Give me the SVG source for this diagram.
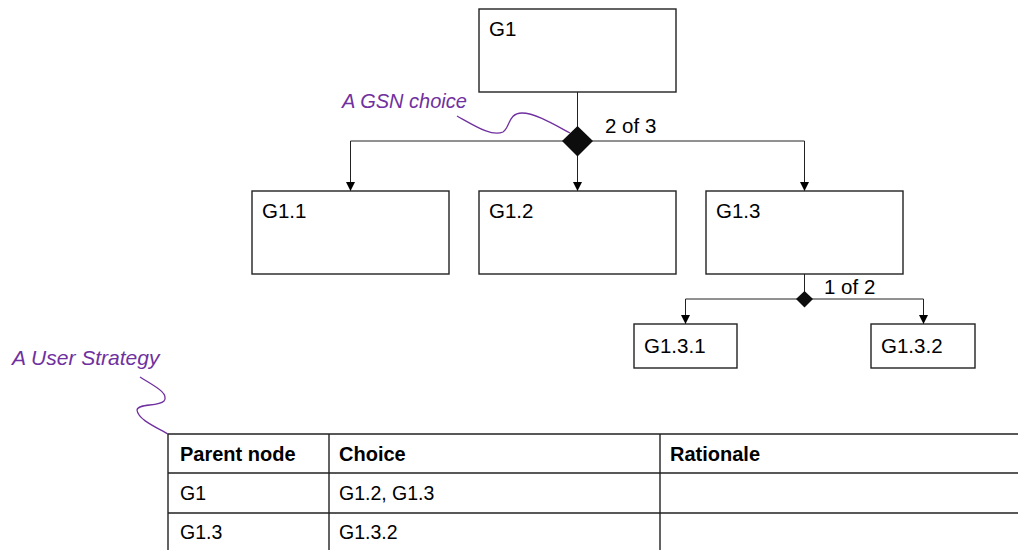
<svg xmlns="http://www.w3.org/2000/svg" width="1018" height="550" viewBox="0 0 1018 550">
<defs>
<marker id="arr" viewBox="0 0 10 10" refX="10" refY="5" markerWidth="9" markerHeight="9" markerUnits="userSpaceOnUse" orient="auto">
<path d="M0,0 L10,5 L0,10 z" fill="#000"/>
</marker>
<style>
.box{fill:#fff;stroke:#222;stroke-width:1.4}
.lbl{font-family:"Liberation Sans",Arial,sans-serif;font-size:20.5px;fill:#000}
.conn{fill:none;stroke:#222;stroke-width:1}
.dia{fill:#0d0d0d;stroke:none}
.note{font-family:"Liberation Sans",Arial,sans-serif;font-size:20px;font-style:italic;fill:#7030A0}
.squig{fill:none;stroke:#7030A0;stroke-width:1.3}
.tl{stroke:#222;stroke-width:1.4}
.th{font-family:"Liberation Sans",Arial,sans-serif;font-size:20px;font-weight:bold;fill:#000}
.td{font-family:"Liberation Sans",Arial,sans-serif;font-size:19.5px;fill:#000}
</style>
</defs>
<g id="connectors">
<path class="conn" d="M577.5,92 V141"/>
<path class="conn" d="M350.5,141 H804.5"/>
<path class="conn" d="M350.5,141 V191" marker-end="url(#arr)"/>
<path class="conn" d="M577.5,141 V191" marker-end="url(#arr)"/>
<path class="conn" d="M804.5,141 V191" marker-end="url(#arr)"/>
<path class="conn" d="M804.5,273 V299"/>
<path class="conn" d="M685.5,299 H923.5"/>
<path class="conn" d="M685.5,299 V324" marker-end="url(#arr)"/>
<path class="conn" d="M923.5,299 V324" marker-end="url(#arr)"/>
<polygon class="dia" points="577.5,126 593,141 577.5,156.5 562,141"/>
<polygon class="dia" points="804.5,291 813,299 804.5,307.5 796,299"/>
<text class="lbl" x="605" y="133">2 of 3</text>
<text class="lbl" x="824" y="294">1 of 2</text>
</g>
<g id="G1"><rect class="box" x="479" y="9" width="197" height="83"/><text class="lbl" x="489" y="36">G1</text></g>
<g id="G1.1"><rect class="box" x="252" y="191" width="197" height="83"/><text class="lbl" x="262" y="218">G1.1</text></g>
<g id="G1.2"><rect class="box" x="479" y="191" width="197" height="83"/><text class="lbl" x="489" y="218">G1.2</text></g>
<g id="G1.3"><rect class="box" x="706" y="191" width="197" height="83"/><text class="lbl" x="716" y="218">G1.3</text></g>
<g id="G1.3.1"><rect class="box" x="634" y="324" width="103" height="44"/><text class="lbl" x="644" y="353">G1.3.1</text></g>
<g id="G1.3.2"><rect class="box" x="871" y="324" width="104" height="44"/><text class="lbl" x="881" y="353">G1.3.2</text></g>
<g id="note-gsn-choice">
<text class="note" x="342" y="108">A GSN choice</text>
<path class="squig" d="M457,116 C475,126 492,137 503,132 C510,128 508,113 522,113 C535,113 555,125 570,133"/>
</g>
<g id="note-user-strategy">
<text class="note" x="12" y="365" style="font-size:21px">A User Strategy</text>
<path class="squig" d="M140,377 C152,385 170,393 164,401 C158,407 138,403 137,410 C138,420 158,428 168,434"/>
</g>
<g id="table">
<path class="tl" d="M168,434 H1018 M168,473 H1018 M168,513 H1018 M168,434 V550 M329,434 V550 M660,434 V550"/>
<text class="th" x="180" y="461">Parent node</text>
<text class="th" x="339" y="461">Choice</text>
<text class="th" x="670" y="461">Rationale</text>
<text class="td" x="180" y="500">G1</text>
<text class="td" x="339" y="500">G1.2, G1.3</text>
<text class="td" x="180" y="539">G1.3</text>
<text class="td" x="339" y="539">G1.3.2</text>
</g>
</svg>
